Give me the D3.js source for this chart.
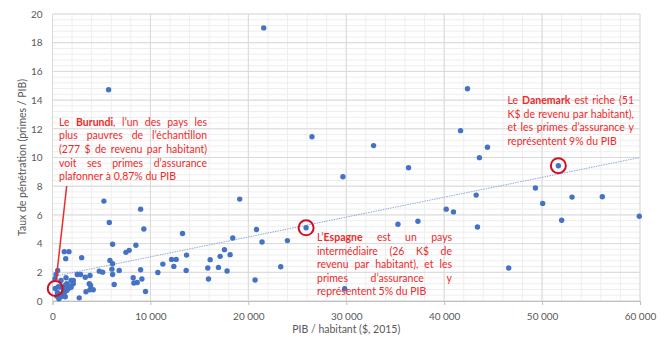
<!DOCTYPE html>
<meta charset="utf-8">
<script src="https://d3js.org/d3.v7.min.js"></script>
<style>
  body { margin: 0; background: #fff; }
  .tick text { fill: #595959; font: 10px Lato; }
  .note { fill: #ee2a2a; font: 10.5px Lato; }
</style>
<div id="chart"></div>
<script>

// PIB / habitant ($, 2015) and taux de pénétration
var gdp = [5730, 21570, 42380, 41670, 26500, 32790, 44420, 43600, 51660, 36360,
  29660, 49320, 43270, 53060, 56150, 19120, 5250, 50060, 9000, 40210,
  40950, 59930, 52000, 37320, 5800, 35280, 43400, 25900, 9330, 20830,
  13280, 18410, 23990, 21400, 6140, 8520, 17560, 7830, 7500, 1200,
  1680, 18140, 13690, 17120, 2980, 1350, 12160, 12630, 16100, 5870,
  6140, 11270, 12390, 23310, 46590, 16950, 15860, 9000, 6070, 6810,
  13650, 530, 17830, 4780, 5120, 10760, 360, 2530, 2870, 6140,
  3830, 3350, 8240, 1380, 9130, 15930, 20690, 870, 1890, 2120,
  8650, 8310, 3750, 2120, 1450, 6300, 3890, 1280, 29840, 3830,
  4160, 9500, 3420, 2730, 277, 600, 760, 430, 760, 940,
  1100, 1450, 1610, 260, 1000, 1200, 500, 1700, 1900, 650, 1300];
var penetration = [14.72, 19.03, 14.79, 11.87, 11.45, 10.83, 10.71, 9.99, 9.43, 9.29,
  8.66, 7.87, 7.38, 7.24, 7.26, 7.10, 6.96, 6.80, 6.40, 6.40,
  6.21, 5.91, 5.63, 5.56, 5.47, 5.35, 5.16, 5.10, 5.02, 4.98,
  4.70, 4.39, 4.21, 4.11, 3.95, 3.88, 3.58, 3.53, 3.39, 3.44,
  3.44, 3.23, 3.20, 3.11, 3.02, 2.95, 2.90, 2.90, 2.88, 2.83,
  2.60, 2.57, 2.41, 2.39, 2.30, 2.34, 2.30, 2.18, 2.22, 2.13,
  2.13, 2.13, 2.09, 2.08, 2.01, 1.99, 1.85, 1.85, 1.85, 1.85,
  1.78, 1.66, 1.62, 1.62, 1.53, 1.53, 1.46, 1.43, 1.43, 1.43,
  1.29, 1.25, 1.20, 1.20, 1.20, 1.15, 1.08, 1.08, 0.85, 0.78,
  0.78, 0.66, 0.64, 0.22, 0.87, 1.00, 0.97, 0.34, 0.27, 0.50,
  0.85, 0.73, 0.85, 1.55, 0.35, 0.55, 0.60, 1.05, 0.95, 0.15, 0.30];

var xTicks = [0, 10000, 20000, 30000, 40000, 50000, 60000];
var yTicks = [0, 2, 4, 6, 8, 10, 12, 14, 16, 18, 20];

// dotted trend line ends
var trendGdp = [200, 60000];
var trendPen = [1.72, 10.0];

// circled countries: Burundi, Espagne, Danemark
var highlightGdp = [277, 25900, 51660];
var highlightPen = [0.87, 5.10, 9.43];

var noteBurundi = [
  "Le **Burundi**, l’un des pays les",
  "plus pauvres de l’échantillon",
  "(277 $ de revenu par habitant)",
  "voit ses primes d’assurance",
  "plafonner à 0,87% du PIB"];
var noteEspagne = [
  "L’**Espagne** est un pays",
  "intermédiaire (26 K$ de",
  "revenu par habitant), et les",
  "primes d’assurance y",
  "représentent 5% du PIB"];
var noteDanemark = [
  "Le **Danemark** est riche (51",
  "K$ de revenu par habitant),",
  "et les primes d’assurance y",
  "représentent 9% du PIB"];

var margin = {top: 14, right: 29, bottom: 51, left: 52.5},
    width = 669 - margin.left - margin.right,
    height = 352 - margin.top - margin.bottom;

var svg = d3.select("#chart")
  .append("svg")
    .attr("width", 669)
    .attr("height", 352)
  .append("g")
    .attr("transform", "translate(" + margin.left + "," + margin.top + ")");

var x = d3.scaleLinear().domain([0, 60000]).range([0, width]);
var y = d3.scaleLinear().domain([0, 20]).range([height, 0]);

var fr = d3.formatLocale({decimal: ",", thousands: "\u202f", grouping: [3], currency: ["", " $"]});
var fmt = fr.format(",d");

// minor grid
svg.append("g").selectAll("line")
  .data(d3.range(0, 60001, 2000))
  .enter().append("line")
    .attr("x1", function(d) { return x(d); }).attr("x2", function(d) { return x(d); })
    .attr("y1", 0).attr("y2", height)
    .attr("stroke", "#eeeeee");
svg.append("g").selectAll("line")
  .data(d3.range(0, 20.01, 0.4))
  .enter().append("line")
    .attr("y1", function(d) { return y(d); }).attr("y2", function(d) { return y(d); })
    .attr("x1", 0).attr("x2", width)
    .attr("stroke", "#eeeeee");

// major grid
svg.append("g").selectAll("line")
  .data(xTicks)
  .enter().append("line")
    .attr("x1", function(d) { return x(d); }).attr("x2", function(d) { return x(d); })
    .attr("y1", 0).attr("y2", height)
    .attr("stroke", "#d9d9d9");
svg.append("g").selectAll("line")
  .data(yTicks)
  .enter().append("line")
    .attr("y1", function(d) { return y(d); }).attr("y2", function(d) { return y(d); })
    .attr("x1", 0).attr("x2", width)
    .attr("stroke", "#d9d9d9");

// axes
var xAxis = svg.append("g")
    .attr("transform", "translate(0," + height + ")")
    .call(d3.axisBottom(x).tickValues(xTicks).tickFormat(fmt).tickSizeOuter(0).tickSize(4).tickPadding(8));
xAxis.select(".domain").attr("stroke", "#bfbfbf");
xAxis.selectAll(".tick line").attr("stroke", "#bfbfbf");

var yAxis = svg.append("g")
    .call(d3.axisLeft(y).tickValues(yTicks).tickSize(0).tickPadding(10));
yAxis.select(".domain").remove();

// axis titles
svg.append("text")
    .attr("transform", "rotate(-90)")
    .attr("x", -height / 2)
    .attr("y", -27)
    .style("text-anchor", "middle")
    .style("font", "10.5px Lato")
    .style("fill", "#595959")
    .text("Taux de pénétration (primes / PIB)");

svg.append("text")
    .attr("x", width / 2)
    .attr("y", height + 32)
    .style("text-anchor", "middle")
    .style("font", "10.5px Lato")
    .style("fill", "#595959")
    .text("PIB / habitant ($, 2015)");

// trend line
svg.append("line")
    .attr("x1", x(trendGdp[0])).attr("y1", y(trendPen[0]))
    .attr("x2", x(trendGdp[1])).attr("y2", y(trendPen[1]))
    .attr("stroke", "#8eaadb")
    .attr("stroke-width", 1)
    .attr("stroke-dasharray", "1.5,1");

// points
svg.append("g").selectAll("circle")
  .data(gdp)
  .enter().append("circle")
    .attr("cx", function(d) { return x(d); })
    .attr("cy", function(d, i) { return y(penetration[i]); })
    .attr("r", 2.7)
    .style("fill", "#4472c4");

// red circles round the three countries
svg.append("g").selectAll("circle")
  .data(highlightGdp)
  .enter().append("circle")
    .attr("cx", function(d) { return x(d); })
    .attr("cy", function(d, i) { return y(highlightPen[i]); })
    .attr("r", 7.5)
    .style("fill", "none")
    .style("stroke", "#d01020")
    .style("stroke-width", 2);

// pointer from Burundi to its note
var bx = x(highlightGdp[0]), by = y(highlightPen[0]);
var ex = 66.7 - margin.left, ey = 186 - margin.top;
var len = Math.sqrt((ex - bx) * (ex - bx) + (ey - by) * (ey - by));
svg.append("line")
    .attr("x1", bx + (ex - bx) / len * 7.5).attr("y1", by + (ey - by) / len * 7.5)
    .attr("x2", ex).attr("y2", ey)
    .attr("stroke", "#ee2a2a")
    .attr("stroke-width", 1.5);

// justified notes
function parse(line) {
  var bold = false;
  return line.split(" ").map(function(w) {
    var parts = [];
    w.split("**").forEach(function(s, k) {
      if (k > 0) bold = !bold;
      if (s) parts.push({s: s, b: bold});
    });
    return parts;
  });
}

function note(lines, left, right, top, lh) {
  lines.forEach(function(line, i) {
    var words = parse(line);
    var ty = top + i * lh - margin.top;
    var nodes = words.map(function(parts) {
      var t = svg.append("text").attr("class", "note").attr("y", ty);
      parts.forEach(function(p) {
        t.append("tspan").text(p.s).style("font-weight", p.b ? "bold" : null);
      });
      return t;
    });
    var widths = nodes.map(function(n) { return n.node().getComputedTextLength(); });
    var last = i === lines.length - 1;
    var gap = last ? 2.7 : (right - left - d3.sum(widths)) / (words.length - 1);
    var cx = left - margin.left;
    nodes.forEach(function(n, j) { n.attr("x", cx); cx += widths[j] + gap; });
  });
}

note(noteBurundi, 59, 207, 125.5, 13.7);
note(noteEspagne, 317, 452, 241, 13.6);
note(noteDanemark, 507.5, 634, 104, 13.7);

</script>
